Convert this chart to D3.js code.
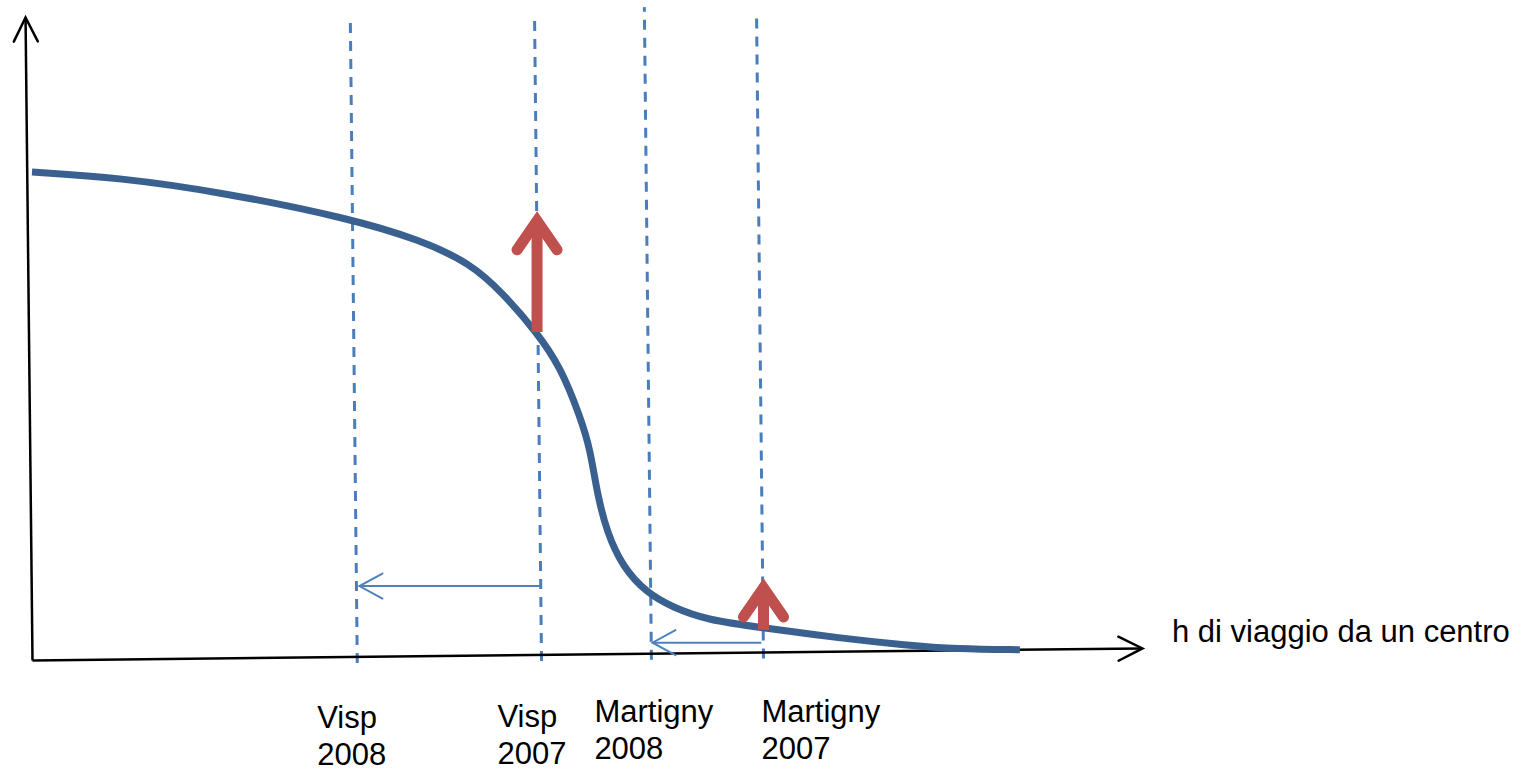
<!DOCTYPE html>
<html>
<head>
<meta charset="utf-8">
<script src="https://cdn.jsdelivr.net/npm/d3@7"></script>
<style>
  html, body { margin: 0; padding: 0; background: #fff; }
  svg { display: block; }
  text { font-family: "Liberation Sans", Arial, sans-serif; fill: #000; }
</style>
</head>
<body>
<svg id="chart" width="1528" height="772"></svg>
<script>
// ---- data (x: travel hours, arbitrary units 0..10; y: value, arbitrary units 0..10) ----
const curveX = [0.00, 0.79, 1.69, 2.86, 3.50, 3.95, 4.24, 4.55, 4.76, 4.94, 5.03, 5.09, 5.18, 5.32, 5.54, 5.77, 6.08, 6.59, 7.28, 7.88, 8.33, 8.90];
const curveY = [7.59, 7.50, 7.28, 6.87, 6.53, 6.17, 5.71, 5.09, 4.56, 3.78, 3.27, 2.60, 1.98, 1.45, 1.04, 0.82, 0.62, 0.50, 0.34, 0.23, 0.17, 0.16];

const markerNames = ["Visp", "Visp", "Martigny", "Martigny"];
const markerYears = ["2008", "2007", "2008", "2007"];
const markerX     = [2.93, 4.59, 5.58, 6.59];
const markerTop   = [9.95, 9.91, 10.05, 9.88];
const markerBottom = -0.1;

// red "up" arrows: x, from y, to y
const upX    = [4.55, 6.59];
const upFrom = [5.10, 0.47];
const upTo   = [6.83, 1.12];

// blue "shift" arrows: y, from x, to x
const shiftY    = [1.15, 0.27];
const shiftFrom = [4.58, 6.57];
const shiftTo   = [2.95, 5.59];

const xAxisLabel = "h di viaggio da un centro";
const xMax = 10, yMax = 10;

// ---- drawing ----
const svg = d3.select("#chart");
const x = d3.scaleLinear().domain([0, xMax]).range([32, 1142]);
const y = d3.scaleLinear().domain([0, yMax]).range([660, 17]);
const tilt = -0.62; // the whole frame is slightly rotated in the source

const defs = svg.append("defs");
function chevron(id, color, w, d) {
  defs.append("marker")
    .attr("id", id)
    .attr("markerUnits", "userSpaceOnUse")
    .attr("viewBox", "-60 -40 80 80")
    .attr("markerWidth", 80).attr("markerHeight", 80)
    .attr("refX", 0).attr("refY", 0)
    .attr("orient", "auto")
    .style("overflow", "visible")
    .append("path")
    .attr("d", d)
    .attr("fill", "none")
    .attr("stroke", color)
    .attr("stroke-width", w)
    .attr("stroke-linecap", "round")
    .attr("stroke-linejoin", "miter")
    .attr("stroke-miterlimit", 10);
}
chevron("axisHead", "#000", 2.5, "M-24,-12L0,0L-24,12");
chevron("blueHead", "#4f81bd", 2, "M-23,-12.5L0,0L-23,12.5");
chevron("redHead", "#c0504d", 11, "M-29,-20L0,0L-29,20");

const frame = svg.append("g")
  .attr("transform", `rotate(${tilt},${x(0)},${y(0)})`);

// dashed guide lines
frame.selectAll("line.guide")
  .data(markerX)
  .join("line")
  .attr("class", "guide")
  .attr("x1", d => x(d)).attr("x2", d => x(d))
  .attr("y1", y(markerBottom))
  .attr("y2", (d, i) => y(markerTop[i]))
  .attr("stroke", "#4a7ebb")
  .attr("stroke-width", 3)
  .attr("stroke-dasharray", "10,8");

// axes (library axes with no ticks, domain line only)
const gx = frame.append("g")
  .attr("transform", `translate(0,${y(0)})`)
  .call(d3.axisBottom(x).ticks(0).tickSizeOuter(0));
const gy = frame.append("g")
  .attr("transform", `translate(${x(0)},0)`)
  .call(d3.axisLeft(y).ticks(0).tickSizeOuter(0));
[gx, gy].forEach(g => {
  g.select(".domain")
    .attr("stroke", "#000")
    .attr("stroke-width", 2.5)
    .attr("marker-end", "url(#axisHead)");
});

// curve
const pts = curveX.map((v, i) => [v, curveY[i]]);
svg.append("path")
  .datum(pts)
  .attr("d", d3.line().x(d => x(d[0])).y(d => y(d[1])).curve(d3.curveBasis))
  .attr("fill", "none")
  .attr("stroke", "#3a6090")
  .attr("stroke-width", 7);

// blue shift arrows
svg.selectAll("line.shift")
  .data(shiftY)
  .join("line")
  .attr("class", "shift")
  .attr("x1", (d, i) => x(shiftFrom[i]))
  .attr("x2", (d, i) => x(shiftTo[i]))
  .attr("y1", d => y(d)).attr("y2", d => y(d))
  .attr("stroke", "#4f81bd")
  .attr("stroke-width", 2)
  .attr("marker-end", "url(#blueHead)");

// red up arrows
svg.selectAll("line.up")
  .data(upX)
  .join("line")
  .attr("class", "up")
  .attr("x1", d => x(d)).attr("x2", d => x(d))
  .attr("y1", (d, i) => y(upFrom[i]))
  .attr("y2", (d, i) => y(upTo[i]))
  .attr("stroke", "#c0504d")
  .attr("stroke-width", 11)
  .attr("marker-end", "url(#redHead)");

// x axis label
svg.append("text")
  .attr("x", 1172).attr("y", 642)
  .style("font-size", "31px")
  .text(xAxisLabel);

// location labels
const labelDX = [-40, -44, -57, -2];
const labelDY = [0, -1, -6, -6];
const lab = svg.selectAll("text.loc")
  .data(markerNames)
  .join("text")
  .attr("class", "loc")
  .style("font-size", "31px")
  .attr("x", (d, i) => x(markerX[i]) + labelDX[i])
  .attr("y", (d, i) => 728 + labelDY[i]);
lab.append("tspan").text(d => d);
lab.append("tspan")
  .attr("x", (d, i) => x(markerX[i]) + labelDX[i])
  .attr("dy", 37)
  .text((d, i) => markerYears[i]);
</script>
</body>
</html>
